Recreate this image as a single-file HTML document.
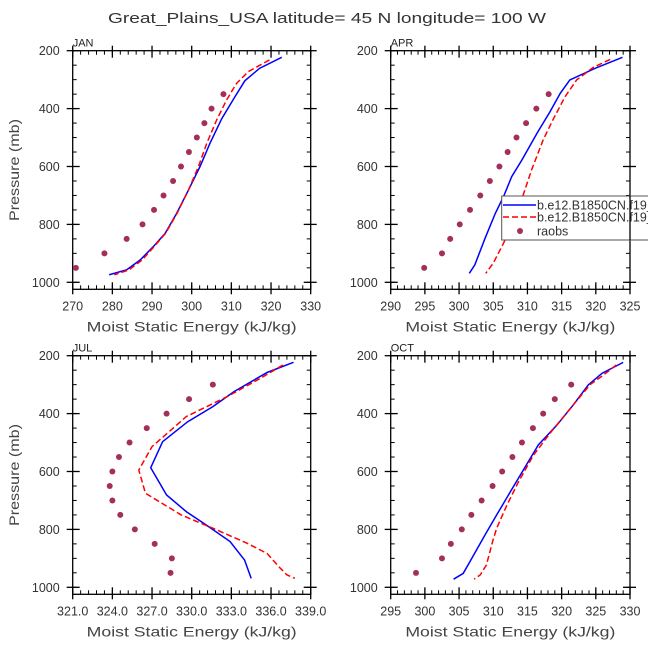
<!DOCTYPE html>
<html><head><meta charset="utf-8"><style>
html,body{margin:0;padding:0;background:#fff;}
svg{display:block;font-family:"Liberation Sans","DejaVu Sans",sans-serif;}
</style></head><body>
<svg id="chart" width="648" height="649" viewBox="0 0 648 649" xmlns="http://www.w3.org/2000/svg">
<text x="327" y="23" text-anchor="middle" font-size="15" fill="#333" textLength="438" lengthAdjust="spacingAndGlyphs">Great_Plains_USA  latitude= 45 N longitude= 100 W</text>
<g id="panels"></g>
</svg>
<script>
const obsLevels = [300,350,400,450,500,550,600,650,700,750,800,850,900,950];
const janBlueP = [223,261,304,359,434,520,600,681,762,831,877,923,957,974];
const janBlue = [322.7,317.1,313.4,310.9,307.6,304.6,302.1,299.2,296.2,293.3,290.3,287.0,283.6,279.2];
const janRedP = [232,272,313,370,439,520,600,681,762,831,877,923,957,974];
const janRed = [319.6,314.3,311.3,308.8,306.3,303.8,301.7,299.2,296.3,293.4,290.5,287.5,284.2,280.5];
const janObs = [null,308.0,305.0,303.2,301.3,299.3,297.3,295.3,292.9,290.5,287.6,283.6,278.0,270.8];
const aprBlueP = [223,261,301,347,411,485,577,635,704,762,848,940,969];
const aprBlue = [323.9,319.9,316.2,314.8,313.3,311.4,309.2,307.7,306.5,305.3,303.8,302.3,301.5];
const aprRedP = [230,258,301,359,440,508,612,704,796,865,934,969];
const aprRed = [322.1,319.6,317.2,315.5,313.7,312.3,310.6,309.3,307.9,306.5,305.0,303.9];
const aprObs = [null,313.1,311.3,309.8,308.4,307.1,305.9,304.5,303.1,301.6,300.1,298.7,297.5,294.9];
const julBlueP = [223,258,324,376,428,497,587,681,739,785,842,906,969];
const julBlue = [337.7,335.7,333.2,331.6,329.7,327.8,326.9,328.1,329.6,331.1,332.9,334.0,334.5];
const julRedP = [232,278,341,410,514,595,675,750,796,848,883,934,957,969];
const julRed = [336.9,335.2,332.7,329.6,327.0,326.0,326.5,329.2,331.6,334.2,335.7,336.7,337.2,337.8];
const julObs = [331.6,329.8,328.1,326.6,325.3,324.5,324.0,323.8,324.0,324.6,325.7,327.2,328.5,328.4];
const octBlueP = [223,261,301,370,440,508,595,670,750,819,911,952,972];
const octBlue = [329.0,325.9,323.9,321.7,319.3,316.6,314.4,312.5,310.5,308.8,306.6,305.6,304.2];
const octRedP = [232,267,299,370,462,543,635,716,796,842,923,957,972];
const octRed = [328.0,326.1,324.2,321.7,318.5,315.9,313.7,312.0,310.5,309.9,309.0,308.1,307.2];
const octObs = [321.4,319.0,317.3,315.8,314.2,312.8,311.3,309.9,308.3,306.8,305.4,303.8,302.5,298.7];
const janTicks = [270,280,290,300,310,320,330];
const aprTicks = [290,295,300,305,310,315,320,325];
const julTicks = [321.0,324.0,327.0,330.0,333.0,336.0,339.0];
const octTicks = [295,300,305,310,315,320,325,330];
const yTicks = [200,400,600,800,1000];

const NS='http://www.w3.org/2000/svg';
const root=document.getElementById('panels');
function mk(tag,attrs,parent){const e=document.createElementNS(NS,tag);for(const k in attrs)e.setAttribute(k,attrs[k]);(parent||root).appendChild(e);return e;}

const panels=[
 {name:'jan',label:'JAN',L:72.7,R:310.7,T:50.7,B:289.3,xmin:270,xmax:330,ticks:janTicks,minor:2,blue:janBlue,blueP:janBlueP,red:janRed,redP:janRedP,obs:janObs,ylab:true,dec:0},
 {name:'apr',label:'APR',L:390.7,R:630,T:50.7,B:289.3,xmin:290,xmax:325,ticks:aprTicks,minor:1,blue:aprBlue,blueP:aprBlueP,red:aprRed,redP:aprRedP,obs:aprObs,ylab:false,dec:0},
 {name:'jul',label:'JUL',L:72.7,R:310.7,T:355.7,B:594.3,xmin:321,xmax:339,ticks:julTicks,minor:0.6,blue:julBlue,blueP:julBlueP,red:julRed,redP:julRedP,obs:julObs,ylab:true,dec:1},
 {name:'oct',label:'OCT',L:390.7,R:630,T:355.7,B:594.3,xmin:295,xmax:330,ticks:octTicks,minor:1,blue:octBlue,blueP:octBlueP,red:octRed,redP:octRedP,obs:octObs,ylab:false,dec:0}
];

panels.forEach(p=>{
 const g=mk('g',{});
 
 
 const X=v=>p.L+(v-p.xmin)/(p.xmax-p.xmin)*(p.R-p.L);
 const Y=v=>p.T+(v-200)/800*231.6;
 for(let v=p.xmin;v<=p.xmax+1e-6;v+=p.minor){const x=X(v);
  mk('line',{x1:x,y1:p.B,x2:x,y2:p.B-4,stroke:'#000','stroke-width':1},g);
  mk('line',{x1:x,y1:p.T,x2:x,y2:p.T+4,stroke:'#000','stroke-width':1},g);}
 for(let v=200;v<=1000;v+=50){const y=Y(v);
  mk('line',{x1:p.L,y1:y,x2:p.L+4,y2:y,stroke:'#000','stroke-width':1},g);
  mk('line',{x1:p.R,y1:y,x2:p.R-4,y2:y,stroke:'#000','stroke-width':1},g);}
 p.ticks.forEach(v=>{const x=X(v);
  mk('line',{x1:x,y1:p.B+5,x2:x,y2:p.B-7,stroke:'#000','stroke-width':1.3},g);
  mk('line',{x1:x,y1:p.T-5,x2:x,y2:p.T+7,stroke:'#000','stroke-width':1.3},g);
  const t=mk('text',{x:x,y:p.B+21,'text-anchor':'middle','font-size':12.5,fill:'#333'},g);
  
  
  t.textContent=v.toFixed(p.dec);});
 yTicks.forEach(v=>{const y=Y(v);
  mk('line',{x1:p.L-6,y1:y,x2:p.L+7,y2:y,stroke:'#000','stroke-width':1.3},g);
  mk('line',{x1:p.R+6,y1:y,x2:p.R-7,y2:y,stroke:'#000','stroke-width':1.3},g);
  const t=mk('text',{x:p.L-13,y:y+4.5,'text-anchor':'end','font-size':12.5,fill:'#333'},g);
  
  
  t.textContent=v;});
 const fr=mk('rect',{x:p.L,y:p.T,width:p.R-p.L,height:p.B-p.T,fill:'none',stroke:'#000','stroke-width':1.3},g);
 
 
 const lb=mk('text',{x:p.L,y:p.T-4,'font-size':11,fill:'#222'},g);
 
 
 lb.textContent=p.label;
 const xt=mk('text',{x:(p.L+p.R)/2,y:p.B+42,'text-anchor':'middle','font-size':14,fill:'#444',textLength:210,lengthAdjust:'spacingAndGlyphs'},g);
 
 
 xt.textContent='Moist Static Energy (kJ/kg)';
 if(p.ylab){const cy=(p.T+p.B)/2;
  const yt=mk('text',{x:0,y:0,transform:`translate(19,${cy}) rotate(-90)`,'text-anchor':'middle','font-size':14,fill:'#444',textLength:102,lengthAdjust:'spacingAndGlyphs'},g);
  
  
  yt.textContent='Pressure (mb)';}
 const bp=mk('polyline',{points:p.blueP.map((l,i)=>X(p.blue[i])+','+Y(l)).join(' '),fill:'none',stroke:'#0000ff','stroke-width':1.5},g);
 
 
 const rp=mk('polyline',{points:p.redP.map((l,i)=>X(p.red[i])+','+Y(l)).join(' '),fill:'none',stroke:'#ff0000','stroke-width':1.5,'stroke-dasharray':'6,3'},g);
 
 
 obsLevels.forEach((l,i)=>{if(p.obs[i]==null)return;
  const c=mk('circle',{cx:X(p.obs[i]),cy:Y(l),r:3,fill:'#a3305a'},g);
  
  });
});
const lg=mk('g',{});


mk('rect',{x:501.7,y:196,width:160,height:44,fill:'#fff',stroke:'#555','stroke-width':1},lg);
mk('line',{x1:630,y1:196,x2:630,y2:240,stroke:'#000','stroke-width':1.3},lg);
const e1=mk('line',{x1:503,y1:205,x2:536,y2:205,stroke:'#0000ff','stroke-width':1.5},lg);


const e2=mk('line',{x1:503,y1:217,x2:536,y2:217,stroke:'#ff0000','stroke-width':1.5,'stroke-dasharray':'6,3'},lg);


const e3=mk('circle',{cx:520,cy:231,r:3,fill:'#a3305a'},lg);


[['b.e12.B1850CN.f19_g16',209.5],['b.e12.B1850CN.f19_g16',221.5],['raobs',235.5]].forEach(([s,y])=>{
 const t=mk('text',{x:537,y:y,'font-size':12.5,fill:'#333'},lg);
 
 
 t.textContent=s;});
</script>
</body></html>
